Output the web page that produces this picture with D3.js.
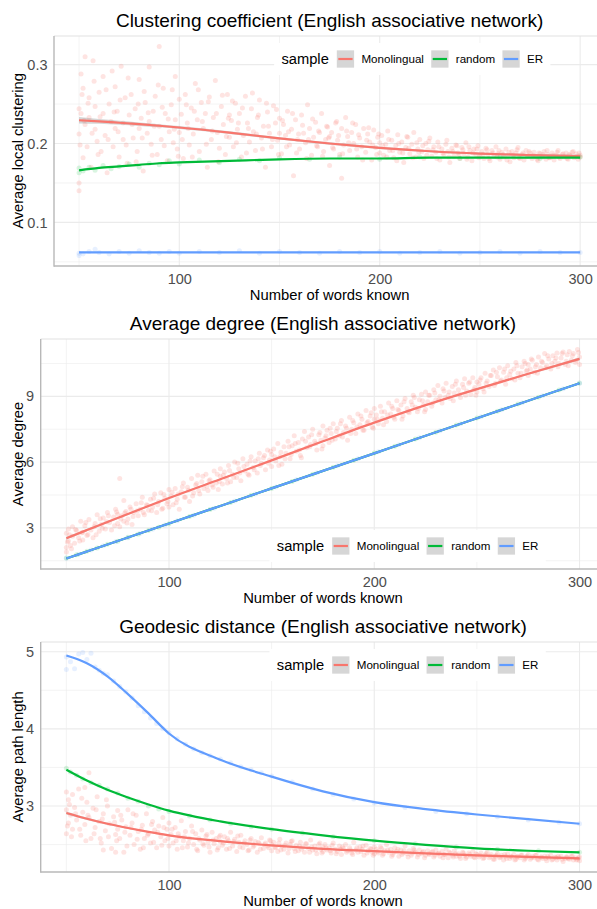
<!DOCTYPE html>
<html><head><meta charset="utf-8">
<script src="https://cdn.jsdelivr.net/npm/d3@7"></script>
<style>
html,body{margin:0;padding:0;background:#fff;}
svg{display:block;font-family:"Liberation Sans",Arial,Helvetica,sans-serif;}
</style></head><body>
<svg id="chart" width="597" height="909"></svg>
<script>
// ---- shared ----
const seriesNames = ["Monolingual", "random", "ER"];
const seriesColors = ["#F8766D", "#00BA38", "#619CFF"];
const xTicks = [100, 200, 300];
const xMinorTicks = [50, 150, 250];
const xLabel = "Number of words known";
const legendTitle = "sample";
const smoothX = [50, 60, 70, 80, 90, 100, 125, 150, 175, 200, 225, 250, 275, 300];

// ---- clustering coefficient ----
const clusterTitle = "Clustering coefficient (English associative network)";
const clusterYLabel = "Average local clustering";
const clusterYTicks = [0.1, 0.2, 0.3];
const clusterYMinor = [0.05, 0.15, 0.25];
const clusterMonoPts = [
[50,.244],[50,.212],[50,.150],[50,.140],[51,.288],[51,.238],[52,.182],[52,.270],[53,.224],[53,.310],[54,.196],[55,.258],[55,.233],[56,.170],[57,.305],[58,.218],[58,.247],[59,.203],[60,.265],[61,.190],[62,.238],[62,.285],[63,.210],[64,.163],[65,.250],[66,.228],[67,.196],[68,.272],[68,.219],[69,.241],[70,.183],[71,.298],[72,.226],[72,.205],[73,.258],[74,.175],[75,.236],
[76,.262],[77,.207],[78,.244],[79,.190],[80,.219],[80,.281],[81,.232],[82,.165],[83,.252],[84,.213],[85,.297],[85,.228],[86,.199],[87,.241],[88,.260],[89,.186],[90,.323],[90,.222],[91,.205],[92,.270],[93,.238],[94,.178],[95,.215],[96,.249],[97,.201],[98,.285],[98,.230],[99,.193],[100,.256],[100,.214],
[101,.237],[102,.181],[103,.262],[104,.226],[105,.198],[106,.245],[107,.212],[108,.276],[109,.230],[110,.190],[111,.252],[112,.219],[113,.238],[114,.170],[115,.259],[116,.205],[117,.233],[118,.280],[119,.214],[120,.194],[121,.247],[122,.224],[123,.186],[124,.262],[125,.208],[125,.236],
[126,.229],[127,.196],[128,.251],[129,.218],[130,.238],[131,.183],[132,.210],[133,.260],[134,.226],[135,.202],[136,.244],[137,.215],[138,.191],[139,.233],[140,.255],[141,.207],[142,.222],[143,.170],[144,.240],[145,.213],[146,.196],[147,.248],[148,.226],[149,.204],[150,.232],[150,.213],
[151,.187],[152,.224],[153,.210],[154,.241],[155,.198],[156,.218],[157,.159],[158,.230],[159,.205],[160,.193],[161,.236],[162,.213],[163,.201],[164,.249],[165,.219],[166,.185],[167,.208],[168,.227],[169,.196],[170,.214],[171,.238],[172,.190],[173,.205],[174,.221],[175,.172],[175,.209],
[176,.214],[177,.193],[178,.226],[179,.204],[180,.186],[181,.156],[181,.219],[182,.198],[183,.233],[184,.209],[185,.191],[186,.214],[187,.200],[188,.224],[189,.183],[190,.207],[191,.196],[192,.219],[193,.189],[194,.212],[195,.202],[196,.179],[197,.217],[198,.195],[199,.208],[200,.188],[200,.201],
[201,.210],[202,.185],[203,.199],[204,.216],[205,.191],[206,.204],[207,.182],[208,.197],[209,.211],[210,.189],[211,.202],[212,.176],[213,.195],[214,.208],[215,.187],[216,.199],[217,.214],[218,.183],[219,.193],[220,.205],[221,.190],[222,.181],[223,.200],[224,.192],[225,.207],
[226,.184],[227,.196],[228,.189],[229,.202],[230,.179],[231,.193],[232,.186],[233,.199],[234,.190],[235,.176],[236,.194],[237,.184],[238,.198],[239,.188],[240,.181],[241,.195],[242,.187],[243,.201],[244,.183],[245,.191],[246,.178],[247,.193],[248,.186],[249,.197],[250,.184],
[251,.190],[252,.181],[253,.194],[254,.186],[255,.178],[256,.191],[257,.184],[258,.196],[259,.187],[260,.180],[261,.189],[262,.183],[263,.193],[264,.185],[265,.177],[266,.190],[267,.182],[268,.188],[269,.195],[270,.181],[271,.186],[272,.179],[273,.191],[274,.184],[275,.188],
[276,.181],[277,.189],[278,.184],[279,.178],[280,.187],[281,.183],[282,.190],[283,.180],[284,.186],[285,.182],[286,.188],[287,.179],[288,.185],[289,.191],[290,.181],[291,.186],[292,.183],[293,.188],[294,.180],[295,.185],[296,.189],[297,.182],[298,.187],[299,.180],[300,.185],[300,.183]
];
const clusterMonoPts2 = [
[50.5,.198],[51.5,.262],[52.5,.229],[54.5,.251],[56.5,.213],[57.5,.279],[59.5,.186],[60.5,.234],[63.5,.268],[64.5,.205],[66.5,.292],[67.5,.240],[69.5,.215],[70.5,.255],[73.5,.198],[74.5,.283],[76.5,.224],[78.5,.177],[79.5,.250],[81.5,.207],[82.5,.266],[84.5,.239],[86.5,.185],[87.5,.222],[89.5,.274],[91.5,.246],[92.5,.197],[94.5,.231],[96.5,.268],[97.5,.218],[99.5,.184],
[101.5,.205],[103.5,.249],[104.5,.219],[106.5,.183],[107.5,.241],[109.5,.268],[111.5,.228],[113.5,.199],[114.5,.253],[116.5,.216],[118.5,.238],[119.5,.177],[121.5,.261],[123.5,.209],[124.5,.232],[126.5,.254],[128.5,.201],[129.5,.226],[131.5,.245],[133.5,.188],[134.5,.219],[136.5,.264],[138.5,.212],[139.5,.236],[141.5,.193],[143.5,.251],[144.5,.222],[146.5,.205],[148.5,.243],[149.5,.186],
[151.5,.229],[153.5,.196],[154.5,.215],[156.5,.238],[158.5,.188],[159.5,.212],[161.5,.223],[163.5,.181],[164.5,.205],[166.5,.231],[168.5,.197],[169.5,.216],[171.5,.184],[173.5,.222],[174.5,.207],[176.5,.195],[178.5,.228],[179.5,.210],[181.5,.187],[183.5,.216],[184.5,.201],[186.5,.226],[188.5,.193],[189.5,.211],[191.5,.179],[193.5,.204],[194.5,.220],[196.5,.198],[198.5,.186],[199.5,.212],
[201.5,.197],[203.5,.183],[204.5,.205],[206.5,.191],[208.5,.178],[209.5,.200],[211.5,.188],[213.5,.209],[214.5,.194],[216.5,.182],[218.5,.201],[219.5,.189],[221.5,.197],[223.5,.185],[224.5,.203],[226.5,.192],[228.5,.181],[229.5,.196],[231.5,.188],[233.5,.204],[234.5,.183],[236.5,.190],[238.5,.197],[239.5,.185],[241.5,.192],[243.5,.180],[244.5,.196],[246.5,.188],[248.5,.193],[249.5,.182],
[251.5,.186],[253.5,.192],[254.5,.181],[256.5,.188],[258.5,.183],[259.5,.191],[261.5,.186],[263.5,.179],[264.5,.189],[266.5,.185],[268.5,.192],[269.5,.182],[271.5,.188],[273.5,.184],[274.5,.190],[276.5,.185],[278.5,.180],[279.5,.188],[281.5,.186],[283.5,.191],[284.5,.182],[286.5,.185],[288.5,.189],[289.5,.183],[291.5,.187],[293.5,.181],[294.5,.186],[296.5,.190],[298.5,.184],[299.5,.188]
];
const clusterRandomPts = [
[50,.169],[50,.163],[52,.165],[55,.170],[58,.166],[62,.172],[66,.168],[70,.171],[75,.174],[80,.170],[85,.175],[90,.173],[95,.178],[100,.174],[110,.179],[120,.176],[130,.180],[140,.178],[150,.182],[165,.180],[180,.183],[200,.180],[220,.183],[240,.181],[260,.183],[280,.181],[300,.183]
];
const clusterERPts = [
[50,.058],[50,.061],[52,.060],[55,.063],[58,.066],[60,.062],[65,.060],[70,.063],[75,.061],[80,.064],[85,.062],[90,.061],[95,.063],[100,.061],[110,.063],[120,.062],[130,.064],[140,.061],[150,.063],[160,.062],[170,.061],[180,.063],[190,.062],[200,.063],[210,.061],[220,.062],[230,.063],[240,.061],[250,.062],[260,.063],[270,.061],[280,.063],[290,.062],[300,.062]
];
const clusterMonoSmooth   = [.2295,.228,.2263,.2245,.2225,.2203,.2138,.2065,.2000,.1945,.1902,.1872,.1853,.1840];
const clusterMonoSE       = [.004,.003,.0026,.0022,.002,.0018,.0016,.0015,.0015,.0015,.0014,.0014,.0014,.0018];
const clusterRandomSmooth = [.166,.169,.171,.173,.175,.176,.178,.180,.181,.181,.182,.182,.182,.182];
const clusterERSmooth     = [.062,.062,.062,.062,.062,.062,.062,.062,.062,.062,.062,.062,.062,.062];

// ---- average degree ----
const degreeTitle = "Average degree (English associative network)";
const degreeYLabel = "Average degree";
const degreeYTicks = [3, 6, 9];
const degreeYMinor = [1.5, 4.5, 7.5, 10.5];
const degreeMonoPts = [
[50,2.10],[50,2.75],[50,1.90],[51,2.95],[51,2.40],[52,2.20],[53,3.05],[53,2.62],[54,2.30],[55,2.88],[56,2.55],[57,3.30],[58,2.45],[58,2.80],[59,3.10],[60,2.65],[61,3.38],[62,2.90],[63,2.55],[64,3.20],[65,3.60],[66,2.85],[67,3.15],[68,3.45],[69,2.95],[70,3.70],[71,3.25],[72,2.90],[73,3.50],[74,3.85],[75,3.20],[75,3.62],
[76,3.05],[76,5.25],[77,3.55],[78,4.25],[78,3.30],[79,3.75],[80,3.40],[81,3.95],[82,3.15],[83,3.70],[84,4.10],[85,3.55],[86,3.85],[87,4.40],[88,3.60],[89,4.05],[90,3.80],[91,4.30],[92,3.95],[93,4.55],[94,3.70],[95,4.20],[96,4.60],[97,3.90],[98,4.35],[99,4.10],[100,4.75],[100,3.95],
[101,4.45],[102,4.05],[103,4.80],[104,4.30],[105,3.85],[106,4.65],[107,5.05],[108,4.40],[109,4.85],[110,4.20],[111,5.25],[112,4.60],[113,4.95],[114,5.40],[115,4.55],[116,5.10],[117,4.80],[118,5.45],[119,4.70],[120,5.20],[121,4.95],[122,5.60],[123,5.05],[124,4.75],[125,5.35],[125,5.70],
[126,5.00],[127,5.55],[128,5.25],[129,5.85],[130,5.10],[131,5.45],[132,6.00],[133,5.30],[134,5.70],[135,5.15],[136,6.15],[137,5.60],[138,5.90],[139,5.40],[140,6.25],[141,5.75],[142,6.05],[143,5.50],[144,6.40],[145,5.95],[146,6.20],[147,5.65],[148,6.55],[149,6.10],[150,5.80],[150,6.35],
[151,6.60],[152,6.05],[153,6.85],[154,6.25],[155,5.90],[156,6.70],[157,6.40],[158,6.95],[159,6.15],[160,6.75],[161,7.20],[162,6.50],[163,6.90],[164,6.30],[165,7.05],[166,7.40],[167,6.65],[168,7.15],[169,6.80],[170,7.50],[171,6.95],[172,6.55],[173,7.25],[174,7.00],[175,7.65],[175,6.75],
[176,7.10],[177,7.45],[178,6.90],[179,7.30],[180,7.75],[181,7.05],[182,7.55],[183,7.20],[184,7.90],[185,7.35],[186,7.65],[187,7.00],[188,8.05],[189,7.50],[190,7.80],[191,7.30],[192,8.20],[193,7.70],[194,7.95],[195,7.45],[196,8.35],[197,7.85],[198,8.10],[199,7.60],[200,8.45],[200,7.95],
[201,8.15],[202,7.75],[203,8.55],[204,8.00],[205,8.30],[206,7.85],[207,8.70],[208,8.20],[209,8.45],[210,7.95],[211,8.80],[212,8.35],[213,8.60],[214,8.10],[215,8.90],[216,8.45],[217,8.25],[218,8.75],[219,9.05],[220,8.50],[221,8.30],[222,8.85],[223,9.10],[224,8.60],[225,8.40],[225,9.20],
[226,8.75],[227,9.05],[228,8.55],[229,9.30],[230,8.85],[231,9.50],[232,9.00],[233,8.70],[234,9.25],[235,9.60],[236,9.05],[237,8.90],[238,9.45],[239,9.15],[240,9.70],[241,9.30],[242,8.95],[243,9.55],[244,9.80],[245,9.25],[246,9.60],[247,9.10],[248,9.85],[249,9.40],[250,9.65],[250,9.20],
[251,9.55],[252,9.85],[253,9.35],[254,10.05],[255,9.70],[256,9.45],[257,9.95],[258,10.20],[259,9.60],[260,9.90],[261,10.30],[262,9.75],[263,10.10],[264,9.55],[265,10.40],[266,10.00],[267,9.80],[268,10.25],[269,10.55],[270,10.05],[271,9.85],[272,10.35],[273,10.60],[274,10.15],[275,10.45],[275,9.95],
[276,10.25],[277,10.65],[278,10.10],[279,10.45],[280,10.80],[281,10.30],[282,10.55],[283,10.95],[284,10.40],[285,10.70],[286,10.25],[287,10.85],[288,10.60],[289,10.98],[290,10.50],[291,10.75],[292,11.02],[293,10.45],[294,10.90],[295,11.05],[296,10.65],[297,10.95],[298,10.55],[299,11.14],[300,10.80],[300,10.45]
];
const degreeMonoPts2 = [
[50.5,2.35],[51.5,2.68],[52.5,2.05],[54.5,2.92],[56.5,2.40],[57.5,2.78],[59.5,3.25],[60.5,2.70],[63.5,3.05],[64.5,2.68],[66.5,3.42],[67.5,2.98],[69.5,3.28],[70.5,3.55],[73.5,3.10],[74.5,3.72],[76.5,3.40],[78.5,3.68],[79.5,3.22],[81.5,3.85],[82.5,3.52],[84.5,3.78],[86.5,4.15],[87.5,3.70],[89.5,4.02],[91.5,3.78],[92.5,4.35],[94.5,4.05],[96.5,3.85],[97.5,4.52],[99.5,4.20],
[101.5,4.62],[103.5,4.15],[104.5,4.55],[106.5,4.88],[107.5,4.40],[109.5,4.72],[111.5,4.45],[113.5,5.02],[114.5,4.70],[116.5,5.35],[118.5,4.90],[119.5,5.15],[121.5,4.85],[123.5,5.45],[124.5,5.12],[126.5,5.40],[128.5,5.05],[129.5,5.62],[131.5,5.30],[133.5,5.95],[134.5,5.50],[136.5,5.80],[138.5,5.45],[139.5,6.05],[141.5,5.65],[143.5,6.15],[144.5,5.85],[146.5,6.30],[148.5,5.95],[149.5,6.50],
[151.5,6.25],[153.5,5.85],[154.5,6.45],[156.5,6.15],[158.5,6.70],[159.5,6.35],[161.5,6.85],[163.5,6.55],[164.5,6.20],[166.5,6.95],[168.5,6.70],[169.5,7.25],[171.5,6.85],[173.5,7.35],[174.5,6.60],[176.5,7.20],[178.5,7.55],[179.5,7.00],[181.5,7.40],[183.5,7.75],[184.5,7.15],[186.5,7.55],[188.5,7.30],[189.5,7.90],[191.5,7.60],[193.5,8.10],[194.5,7.45],[196.5,7.80],[198.5,8.25],[199.5,7.55],
[201.5,7.95],[203.5,8.30],[204.5,7.70],[206.5,8.15],[208.5,8.55],[209.5,8.05],[211.5,8.40],[213.5,7.95],[214.5,8.75],[216.5,8.30],[218.5,8.60],[219.5,8.95],[221.5,8.45],[223.5,8.80],[224.5,8.30],[226.5,9.05],[228.5,8.70],[229.5,9.15],[231.5,8.85],[233.5,9.35],[234.5,8.95],[236.5,9.20],[238.5,8.80],[239.5,9.55],[241.5,9.10],[243.5,9.40],[244.5,9.05],[246.5,9.65],[248.5,9.30],[249.5,9.05],
[251.5,9.75],[253.5,9.20],[254.5,9.60],[256.5,9.95],[258.5,9.50],[259.5,10.10],[261.5,9.70],[263.5,10.25],[264.5,9.85],[266.5,10.15],[268.5,9.75],[269.5,10.40],[271.5,10.05],[273.5,10.50],[274.5,10.20],[276.5,10.70],[278.5,10.35],[279.5,10.05],[281.5,10.60],[283.5,10.30],[284.5,10.85],[286.5,10.50],[288.5,10.75],[289.5,10.35],[291.5,10.95],[293.5,10.60],[294.5,10.40],[296.5,10.85],[298.5,10.65],[299.5,11.00]
];
const degreeRandomPts = [
[50,1.62],[55,1.77],[60,1.93],[65,2.08],[70,2.25],[75,2.39],[80,2.57],[85,2.71],[90,2.88],[95,3.03],[100,3.19],[110,3.52],[120,3.84],[130,4.16],[140,4.49],[150,4.80],[160,5.12],[170,5.45],[180,5.76],[190,6.09],[200,6.41],[210,6.72],[220,7.05],[230,7.36],[240,7.69],[250,8.01],[260,8.32],[270,8.65],[280,8.96],[290,9.29],[300,9.61]
];
const degreeERPts = [
[50,1.61],[56,1.80],[62,1.99],[68,2.18],[74,2.37],[80,2.55],[86,2.75],[92,2.94],[98,3.13],[104,3.33],[112,3.58],[122,3.90],[132,4.22],[142,4.55],[152,4.87],[162,5.19],[172,5.51],[182,5.83],[192,6.15],[202,6.47],[212,6.79],[222,7.11],[232,7.43],[242,7.75],[252,8.07],[262,8.39],[272,8.71],[282,9.03],[292,9.35],[300,9.60]
];
const degreeMonoSmooth   = [2.53,2.90,3.27,3.63,4.00,4.36,5.22,6.08,6.95,7.80,8.60,9.33,10.03,10.71];
const degreeMonoSE       = [.06,.05,.045,.04,.035,.03,.03,.03,.03,.03,.03,.035,.04,.06];
const degreeRandomSmooth = [1.60,1.92,2.24,2.56,2.88,3.20,4.00,4.80,5.60,6.40,7.20,8.00,8.80,9.60];
const degreeERSmooth     = [1.60,1.92,2.24,2.56,2.88,3.20,4.00,4.80,5.60,6.40,7.20,8.00,8.80,9.60];

// ---- geodesic distance ----
const pathTitle = "Geodesic distance (English associative network)";
const pathYLabel = "Average path length";
const pathYTicks = [3, 4, 5];
const pathYMinor = [2.5, 3.5, 4.5];
const pathMonoPts = [
[50,3.18],[50,2.95],[50,2.64],[51,2.78],[51,3.08],[52,2.88],[53,3.15],[53,2.70],[54,2.98],[55,2.82],[56,3.22],[57,2.62],[58,2.92],[59,2.76],[59,3.24],[60,3.05],[61,2.85],[61,3.43],[62,2.58],[63,2.97],[64,2.72],[65,3.12],[66,2.80],[67,2.52],[68,2.90],[68,2.43],[69,2.68],[70,3.00],[71,2.77],[72,2.45],[73,2.86],[74,2.63],[74,2.40],[75,2.94],[75,2.70],
[76,2.58],[77,2.82],[78,2.40],[79,2.73],[80,2.95],[81,2.62],[82,2.78],[83,2.50],[84,2.88],[85,2.67],[86,2.44],[87,2.75],[88,2.58],[89,2.90],[90,2.64],[91,2.52],[92,2.80],[93,2.69],[94,2.46],[95,2.74],[96,2.60],[97,2.85],[98,2.55],[99,2.70],[100,2.48],[100,2.78],
[101,2.63],[102,2.52],[103,2.72],[104,2.44],[105,2.60],[106,2.81],[107,2.55],[108,2.67],[109,2.47],[110,2.58],[111,2.74],[112,2.50],[113,2.64],[114,2.42],[115,2.56],[116,2.69],[117,2.49],[118,2.61],[119,2.53],[120,2.40],[121,2.66],[122,2.51],[123,2.58],[124,2.46],[125,2.62],[125,2.54],
[126,2.49],[127,2.60],[128,2.44],[129,2.55],[130,2.66],[131,2.48],[132,2.57],[133,2.41],[134,2.53],[135,2.62],[136,2.46],[137,2.55],[138,2.50],[139,2.43],[140,2.58],[141,2.47],[142,2.54],[143,2.40],[144,2.51],[145,2.59],[146,2.45],[147,2.52],[148,2.48],[149,2.56],[150,2.42],[150,2.50],
[151,2.53],[152,2.46],[153,2.41],[154,2.57],[155,2.48],[156,2.44],[157,2.52],[158,2.39],[159,2.50],[160,2.55],[161,2.45],[162,2.49],[163,2.42],[164,2.53],[165,2.47],[166,2.40],[167,2.51],[168,2.45],[169,2.56],[170,2.43],[171,2.48],[172,2.38],[173,2.50],[174,2.44],[175,2.47],[175,2.41],
[176,2.50],[177,2.43],[178,2.46],[179,2.39],[180,2.52],[181,2.44],[182,2.41],[183,2.48],[184,2.37],[185,2.45],[186,2.50],[187,2.42],[188,2.46],[189,2.39],[190,2.53],[191,2.43],[192,2.40],[193,2.47],[194,2.44],[195,2.36],[196,2.49],[197,2.42],[198,2.45],[199,2.40],[200,2.47],[200,2.38],
[201,2.44],[202,2.39],[203,2.47],[204,2.36],[205,2.42],[206,2.50],[207,2.40],[208,2.44],[209,2.37],[210,2.46],[211,2.41],[212,2.35],[213,2.43],[214,2.39],[215,2.48],[216,2.38],[217,2.42],[218,2.36],[219,2.45],[220,2.40],[221,2.34],[222,2.43],[223,2.38],[224,2.41],[225,2.36],
[226,2.42],[227,2.37],[228,2.40],[229,2.34],[230,2.43],[231,2.38],[232,2.35],[233,2.41],[234,2.37],[235,2.44],[236,2.33],[237,2.39],[238,2.36],[239,2.42],[240,2.35],[241,2.38],[242,2.32],[243,2.40],[244,2.36],[245,2.34],[246,2.39],[247,2.35],[248,2.41],[249,2.33],[250,2.37],
[251,2.34],[252,2.39],[253,2.32],[254,2.36],[255,2.40],[256,2.33],[257,2.37],[258,2.31],[259,2.35],[260,2.38],[261,2.33],[262,2.36],[263,2.30],[264,2.35],[265,2.38],[266,2.32],[267,2.34],[268,2.37],[269,2.31],[270,2.35],[271,2.33],[272,2.36],[273,2.30],[274,2.34],[275,2.37],
[276,2.31],[277,2.35],[278,2.33],[279,2.36],[280,2.30],[281,2.34],[282,2.32],[283,2.35],[284,2.29],[285,2.33],[286,2.36],[287,2.31],[288,2.34],[289,2.30],[290,2.33],[291,2.35],[292,2.28],[293,2.32],[294,2.34],[295,2.31],[296,2.35],[297,2.30],[298,2.33],[299,2.31],[300,2.34],[300,2.29]
];
const pathMonoPts2 = [
[50.5,2.74],[51.5,3.02],[52.5,2.60],[54.5,2.90],[56.5,2.70],[57.5,3.10],[59.5,2.55],[60.5,2.88],[63.5,2.64],[64.5,2.95],[66.5,2.58],[67.5,2.83],[69.5,3.08],[70.5,2.60],[73.5,2.79],[74.5,2.55],[76.5,2.88],[78.5,2.66],[79.5,2.48],[81.5,2.72],[82.5,2.90],[84.5,2.57],[86.5,2.70],[87.5,2.46],[89.5,2.62],[91.5,2.76],[92.5,2.53],[94.5,2.66],[96.5,2.49],[97.5,2.72],[99.5,2.58],
[101.5,2.70],[103.5,2.55],[104.5,2.64],[106.5,2.46],[107.5,2.60],[109.5,2.52],[111.5,2.67],[113.5,2.44],[114.5,2.58],[116.5,2.51],[118.5,2.63],[119.5,2.47],[121.5,2.56],[123.5,2.43],[124.5,2.60],[126.5,2.52],[128.5,2.58],[129.5,2.45],[131.5,2.54],[133.5,2.61],[134.5,2.47],[136.5,2.52],[138.5,2.42],[139.5,2.56],[141.5,2.49],[143.5,2.53],[144.5,2.44],[146.5,2.50],[148.5,2.46],[149.5,2.55],
[151.5,2.47],[153.5,2.52],[154.5,2.43],[156.5,2.49],[158.5,2.45],[159.5,2.54],[161.5,2.41],[163.5,2.48],[164.5,2.44],[166.5,2.51],[168.5,2.40],[169.5,2.47],[171.5,2.43],[173.5,2.52],[174.5,2.39],[176.5,2.46],[178.5,2.42],[179.5,2.49],[181.5,2.38],[183.5,2.44],[184.5,2.47],[186.5,2.40],[188.5,2.43],[189.5,2.37],[191.5,2.46],[193.5,2.41],[194.5,2.48],[196.5,2.39],[198.5,2.44],[199.5,2.36],
[201.5,2.41],[203.5,2.45],[204.5,2.38],[206.5,2.43],[208.5,2.35],[209.5,2.40],[211.5,2.44],[213.5,2.37],[214.5,2.42],[216.5,2.34],[218.5,2.39],[219.5,2.43],[221.5,2.37],[223.5,2.40],[224.5,2.33],[226.5,2.38],[228.5,2.41],[229.5,2.36],[231.5,2.39],[233.5,2.33],[234.5,2.37],[236.5,2.40],[238.5,2.34],[239.5,2.38],[241.5,2.35],[243.5,2.39],[244.5,2.32],[246.5,2.37],[248.5,2.34],[249.5,2.38],
[251.5,2.36],[253.5,2.33],[254.5,2.38],[256.5,2.35],[258.5,2.31],[259.5,2.36],[261.5,2.34],[263.5,2.37],[264.5,2.32],[266.5,2.35],[268.5,2.30],[269.5,2.34],[271.5,2.36],[273.5,2.32],[274.5,2.35],[276.5,2.33],[278.5,2.36],[279.5,2.31],[281.5,2.34],[283.5,2.32],[284.5,2.35],[286.5,2.30],[288.5,2.33],[289.5,2.35],[291.5,2.31],[293.5,2.34],[294.5,2.32],[296.5,2.35],[298.5,2.30],[299.5,2.33]
];
const pathRandomPts = [
[50,3.49],[52,3.44],[55,3.40],[58,3.35],[62,3.30],[66,3.27],[70,3.22],[75,3.17],[80,3.10],[85,3.06],[90,3.00],[95,2.96],[100,2.93],[110,2.87],[120,2.82],[130,2.77],[140,2.73],[150,2.70],[165,2.65],[180,2.60],[200,2.55],[220,2.51],[240,2.47],[260,2.44],[280,2.42],[300,2.40]
];
const pathERPts = [
[50,4.77],[50,4.93],[52,4.87],[54,4.78],[56,4.97],[58,4.99],[60,4.90],[62,4.98],[64,4.80],[66,4.76],[68,4.72],[70,4.70],[73,4.62],[76,4.55],[79,4.48],[82,4.40],[85,4.30],[88,4.22],[91,4.14],[94,4.07],[97,4.00],[100,3.95],[104,3.87],[108,3.80],[112,3.74],[116,3.69],[120,3.65],[125,3.61],[130,3.56],[135,3.51],[140,3.47],[145,3.43],[150,3.39],[160,3.31],[170,3.22],[180,3.15],[190,3.09],[200,3.04],[215,2.98],[230,2.93],[245,2.90],[260,2.86],[275,2.82],[290,2.79],[300,2.77]
];
const pathMonoSmooth   = [2.91,2.835,2.77,2.715,2.665,2.62,2.545,2.49,2.445,2.415,2.385,2.36,2.34,2.32];
const pathMonoSE       = [.02,.015,.012,.01,.009,.008,.007,.007,.006,.006,.006,.006,.006,.008];
const pathRandomSmooth = [3.47,3.33,3.21,3.11,3.02,2.94,2.80,2.70,2.62,2.55,2.495,2.45,2.42,2.40];
const pathERSmooth     = [4.95,4.85,4.68,4.45,4.20,3.94,3.60,3.38,3.19,3.05,2.96,2.89,2.83,2.77];

// ---- panel definitions ----
const panels = [
  { title: clusterTitle, yLabel: clusterYLabel, yTicks: clusterYTicks, yMinor: clusterYMinor, fmt: d3.format(".1f"),
    points: [clusterMonoPts.concat(clusterMonoPts2), clusterRandomPts, clusterERPts],
    smooth: [clusterMonoSmooth, clusterRandomSmooth, clusterERSmooth], se: [clusterMonoSE, null, null],
    top: 36, left: 54, legendY: 0.9 },
  { title: degreeTitle, yLabel: degreeYLabel, yTicks: degreeYTicks, yMinor: degreeYMinor, fmt: d3.format("d"),
    points: [degreeMonoPts.concat(degreeMonoPts2), degreeRandomPts, degreeERPts],
    smooth: [degreeMonoSmooth, degreeRandomSmooth, degreeERSmooth], se: [degreeMonoSE, null, null],
    top: 339, left: 40.7, legendY: 0.1 },
  { title: pathTitle, yLabel: pathYLabel, yTicks: pathYTicks, yMinor: pathYMinor, fmt: d3.format("d"),
    points: [pathMonoPts.concat(pathMonoPts2), pathRandomPts, pathERPts],
    smooth: [pathMonoSmooth, pathRandomSmooth, pathERSmooth], se: [pathMonoSE, null, null],
    top: 642, left: 40.7, legendY: 0.9 }
];

const svg = d3.select("#chart");
svg.append("rect").attr("width", 597).attr("height", 909).attr("fill", "#fff");

const plotH = 230, plotRightEdge = 605.2;
const gridCol = "#ebebeb", axisCol = "#b8b8b8", tickCol = "#4d4d4d";

function expand(ext) { const r = ext[1] - ext[0]; return [ext[0] - 0.05 * r, ext[1] + 0.05 * r]; }

panels.forEach(p => {
  const g = svg.append("g");
  const L = p.left, T = p.top, B = T + plotH, R = plotRightEdge;

  const allX = p.points.flat().map(d => d[0]).concat(smoothX);
  const allY = p.points.flat().map(d => d[1]).concat(p.smooth.flat());
  const x = d3.scaleLinear().domain(expand(d3.extent(allX))).range([L, R]);
  const y = d3.scaleLinear().domain(expand(d3.extent(allY))).range([B, T]);

  // grid
  const grid = g.append("g");
  xMinorTicks.forEach(v => grid.append("line").attr("x1", x(v)).attr("x2", x(v)).attr("y1", T).attr("y2", B)
    .attr("stroke", gridCol).attr("stroke-width", 0.6));
  p.yMinor.forEach(v => grid.append("line").attr("x1", L).attr("x2", R).attr("y1", y(v)).attr("y2", y(v))
    .attr("stroke", gridCol).attr("stroke-width", 0.6));
  xTicks.forEach(v => grid.append("line").attr("x1", x(v)).attr("x2", x(v)).attr("y1", T).attr("y2", B)
    .attr("stroke", gridCol).attr("stroke-width", 1.1));
  p.yTicks.forEach(v => grid.append("line").attr("x1", L).attr("x2", R).attr("y1", y(v)).attr("y2", y(v))
    .attr("stroke", gridCol).attr("stroke-width", 1.1));
  grid.append("line").attr("x1", L).attr("x2", R).attr("y1", T).attr("y2", T)
    .attr("stroke", "#e2e2e2").attr("stroke-width", 1.2);

  // points
  p.points.forEach((pts, i) => {
    g.append("g").selectAll("circle").data(pts).join("circle")
      .attr("cx", d => x(d[0])).attr("cy", d => y(d[1])).attr("r", 2.5)
      .attr("fill", seriesColors[i]).attr("fill-opacity", i === 0 ? 0.2 : 0.15);
  });

  // smooth ribbons and lines
  p.smooth.forEach((vals, i) => {
    const rows = smoothX.map((xv, k) => ({ x: xv, y: vals[k], s: p.se[i] ? p.se[i][k] : 0 }));
    if (p.se[i]) {
      g.append("path").datum(rows)
        .attr("d", d3.area().x(d => x(d.x)).y0(d => y(d.y - d.s)).y1(d => y(d.y + d.s)).curve(d3.curveMonotoneX))
        .attr("fill", "#999999").attr("fill-opacity", 0.4);
    }
    g.append("path").datum(rows)
      .attr("d", d3.line().x(d => x(d.x)).y(d => y(d.y)).curve(d3.curveMonotoneX))
      .attr("fill", "none").attr("stroke", seriesColors[i]).attr("stroke-width", 2.2);
  });

  // axes
  const xa = g.append("g").attr("transform", `translate(0,${B})`)
    .call(d3.axisBottom(x).tickValues(xTicks).tickSize(0).tickPadding(8));
  xa.select(".domain").remove();
  xa.selectAll("text").attr("fill", tickCol).style("font-size", "14.5px").style("font-family", "inherit");
  const ya = g.append("g").attr("transform", `translate(${L},0)`)
    .call(d3.axisLeft(y).tickValues(p.yTicks).tickFormat(p.fmt).tickSize(0).tickPadding(6.5));
  ya.select(".domain").remove();
  ya.selectAll("text").attr("fill", tickCol).style("font-size", "14.5px").style("font-family", "inherit");

  g.append("line").attr("x1", L).attr("x2", L).attr("y1", T).attr("y2", B + 0.7)
    .attr("stroke", axisCol).attr("stroke-width", 1.4);
  g.append("line").attr("x1", L).attr("x2", R).attr("y1", B).attr("y2", B)
    .attr("stroke", axisCol).attr("stroke-width", 1.4);

  // titles
  const cx = (L + R) / 2;
  g.append("text").attr("x", cx).attr("y", T - 9).attr("text-anchor", "middle")
    .style("font-size", "19px").attr("fill", "#000").text(p.title);
  g.append("text").attr("x", cx).attr("y", B + 34).attr("text-anchor", "middle")
    .style("font-size", "14.8px").attr("fill", "#000").text(xLabel);
  g.append("text").attr("transform", `translate(23,${(T + B) / 2}) rotate(-90)`).attr("text-anchor", "middle")
    .style("font-size", "14.7px").attr("fill", "#000").text(p.yLabel);

  // legend
  const lg = g.append("g");
  const bg = lg.append("rect").attr("fill", "#fff");
  const pad = 7.3, key = 17.28;
  let lx = pad;
  const tt = lg.append("text").attr("x", lx).attr("y", 5.3).style("font-size", "14.7px").attr("fill", "#000").text(legendTitle);
  lx += tt.node().getComputedTextLength() + pad + 0.7;
  seriesNames.forEach((name, i) => {
    lg.append("rect").attr("x", lx).attr("y", -key / 2).attr("width", key).attr("height", key).attr("fill", "#d6d6d6");
    lg.append("line").attr("x1", lx + 1.5).attr("x2", lx + key - 1.5).attr("y1", 0).attr("y2", 0)
      .attr("stroke", seriesColors[i]).attr("stroke-width", 2.2);
    lx += key + pad;
    const t = lg.append("text").attr("x", lx).attr("y", 4.2).style("font-size", "11.6px").attr("fill", "#000").text(name);
    lx += t.node().getComputedTextLength() + pad;
  });
  const lw = lx, lh = 32;
  bg.attr("x", 0).attr("y", -lh / 2).attr("width", lw).attr("height", lh);
  const lcx = L + 0.65 * (R - L), lcy = B - p.legendY * plotH;
  lg.attr("transform", `translate(${lcx - lw / 2},${lcy})`);
});
</script>
</body></html>
